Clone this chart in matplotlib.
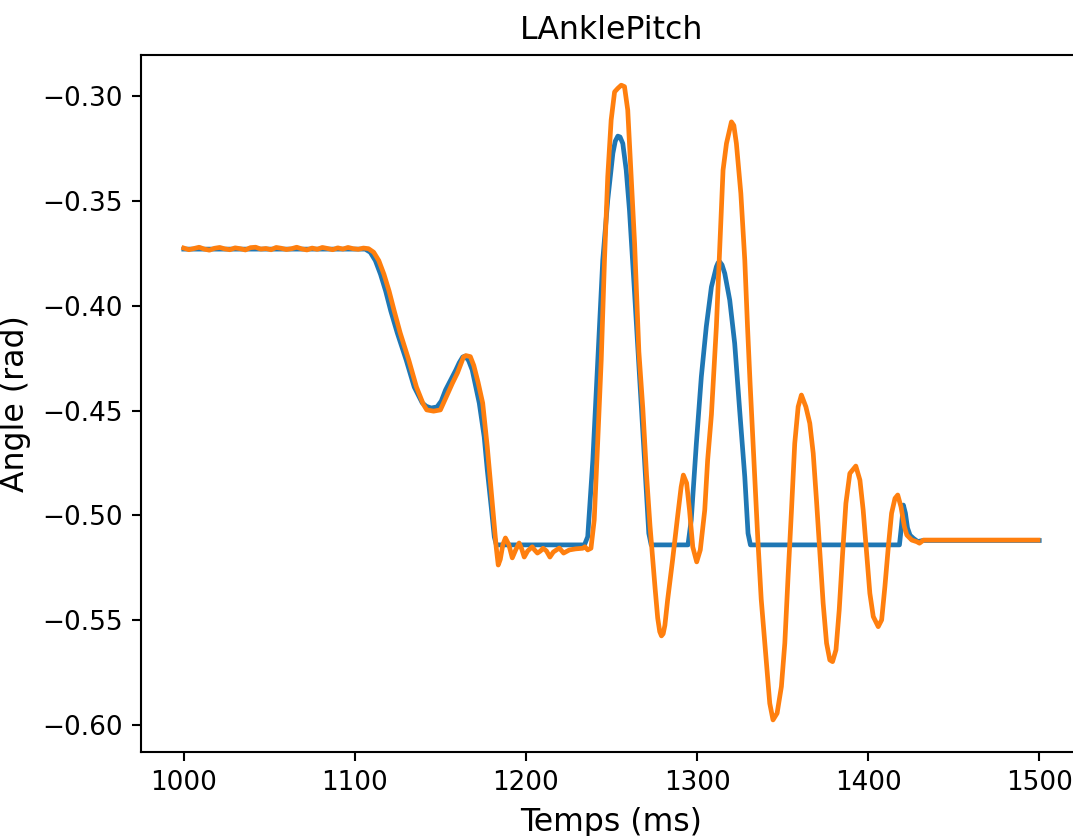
#!/usr/bin/env python3
"""Commanded vs measured LAnklePitch angle over one step."""

import matplotlib
matplotlib.use("Agg")
import matplotlib.pyplot as plt

# --- Data ----------------------------------------------------------------
# commanded joint angle (blue)
cmd_t = [1000, 1106, 1109, 1112, 1115, 1118, 1121, 1124.8, 1130, 1134.7,
         1139.4, 1141.8, 1144.6, 1148, 1150.5, 1153, 1159, 1161, 1163,
         1164.5, 1166.5, 1168.6, 1172.7, 1175.6, 1177.4, 1179.7, 1181.5,
         1182.7,
         1234.2, 1236.1, 1239.1, 1242.0, 1244.9, 1247.8, 1250.8, 1252.2,
         1253.7, 1255.0, 1256.6, 1258.6, 1260.5, 1263.5, 1266.4, 1269.3,
         1271.8, 1273.2,
         1294.7, 1296.6, 1299.6, 1302.5, 1305.4, 1308.4, 1311.3, 1312.3,
         1313.2, 1314.6, 1316.2, 1319.1, 1322.0, 1324.9, 1327.9, 1329.8,
         1331.2,
         1418.3, 1419.5, 1420.6, 1421.8, 1423.0, 1424.5, 1426.5, 1429.0,
         1432.0, 1500]
cmd_y = [-0.3730, -0.3730, -0.3745, -0.3785, -0.3850, -0.3930, -0.4025,
         -0.4130, -0.4259, -0.4388, -0.4464, -0.4480, -0.4488, -0.4483,
         -0.4455, -0.4402, -0.4307, -0.4272, -0.4245, -0.4240, -0.4262,
         -0.4307, -0.4464, -0.4626, -0.4784, -0.4960, -0.5103, -0.5141,
         -0.5141, -0.5102, -0.4736, -0.4259, -0.3782, -0.3496, -0.3273,
         -0.3215, -0.3191, -0.3195, -0.3226, -0.3353, -0.3544, -0.3941,
         -0.4339, -0.4736, -0.5086, -0.5141,
         -0.5141, -0.5022, -0.4657, -0.4339, -0.4100, -0.3910, -0.3814,
         -0.3795, -0.3790, -0.3805, -0.3846, -0.3973, -0.4180, -0.4498,
         -0.4816, -0.5086, -0.5141,
         -0.5141, -0.5050, -0.4951, -0.4990, -0.5060, -0.5095, -0.5110,
         -0.5125, -0.5120, -0.5120]

# measured joint angle (orange)
meas_t = [1000, 1003, 1006, 1009, 1012, 1015, 1018, 1021, 1024, 1027,
          1030, 1033, 1036, 1039, 1042, 1045, 1048, 1051, 1054, 1057,
          1060, 1063, 1066, 1069, 1072, 1075, 1078, 1081, 1084, 1087,
          1090, 1093, 1096, 1099, 1102, 1105,
          1108, 1111, 1114, 1117, 1120, 1123, 1126.5, 1131.5, 1136, 1140,
          1142, 1146, 1150, 1154, 1157, 1160, 1163.5, 1165, 1167.5, 1169.5,
          1172, 1174.7, 1177.4, 1180.3, 1182.6, 1183.8, 1185, 1186.5, 1188,
          1190, 1192, 1194, 1196, 1197.5, 1199, 1201, 1203.7, 1205, 1206.7,
          1208.5, 1210, 1212, 1214, 1216, 1219.5, 1222, 1225.4, 1229,
          1233.2, 1234.5, 1236.1, 1238,
          1239.9, 1241.9, 1244.0, 1245.9, 1247.8, 1249.8, 1251.8, 1253.7,
          1255.7, 1257.6, 1259.5, 1261.5, 1263.5, 1266, 1268.3, 1270.5,
          1272.5, 1274.2, 1275.5, 1277, 1278.2, 1279.2, 1280.2, 1281.2,
          1282.8, 1285.7, 1288.6, 1290.7, 1292, 1293.9, 1295.6, 1297.5,
          1299.8, 1301.9, 1304.5, 1306.2, 1308.4, 1311.3, 1313.8, 1315.2,
          1317.2, 1320.1, 1321.5, 1323.0, 1325.6, 1327.9, 1329.5, 1331,
          1333.2, 1335.5, 1337.5, 1339.6, 1342.5, 1344.4, 1346.8, 1349.3,
          1351.3, 1353.2, 1355.2, 1357.1, 1359.1, 1361.0, 1363.6, 1365.9,
          1367.9, 1369.8, 1371.8, 1373.7, 1375.7, 1377.6, 1379.2, 1381.2,
          1383.1, 1385.1, 1387.0, 1389.3, 1392.8, 1395.2, 1397.1, 1399.1,
          1401.0, 1403.0, 1405.9, 1407.9, 1409.8, 1411.8, 1413.7, 1415.7,
          1417.3, 1419.2, 1421.2, 1422.6, 1425.5, 1428.5, 1430.0, 1432.4,
          1499.3]
meas_y = [-0.3725, -0.3733, -0.3727, -0.3721, -0.3730, -0.3735, -0.3726,
          -0.3722, -0.3729, -0.3733, -0.3724, -0.3728, -0.3734, -0.3723,
          -0.3721, -0.3730, -0.3727, -0.3733, -0.3722, -0.3726, -0.3732,
          -0.3728, -0.3721, -0.3729, -0.3734, -0.3725, -0.3731, -0.3722,
          -0.3727, -0.3733, -0.3724, -0.3730, -0.3722, -0.3728, -0.3731,
          -0.3725,
          -0.3728, -0.3745, -0.3785, -0.3850, -0.3930, -0.4025, -0.4130,
          -0.4259, -0.4388, -0.4470, -0.4497, -0.4503, -0.4497, -0.4425,
          -0.4370, -0.4320, -0.4245, -0.4238, -0.4243, -0.4285, -0.4365,
          -0.4464, -0.4674, -0.4940, -0.5151, -0.5237, -0.5210, -0.5140,
          -0.5108, -0.5140, -0.5203, -0.5165, -0.5132, -0.5160, -0.5199,
          -0.5170, -0.5150, -0.5165, -0.5180, -0.5170, -0.5157, -0.5170,
          -0.5199, -0.5175, -0.5156, -0.5180, -0.5165, -0.5160, -0.5157,
          -0.5150, -0.5165, -0.5157,
          -0.5022, -0.4657, -0.4259, -0.3782, -0.3385, -0.3114, -0.2980,
          -0.2963, -0.2948, -0.2955, -0.3067, -0.3385, -0.3703, -0.4220,
          -0.4490, -0.4810, -0.5050, -0.5220, -0.5350, -0.5490, -0.5555,
          -0.5575, -0.5565, -0.5525, -0.5404, -0.5213, -0.5008, -0.4865,
          -0.4808, -0.4846, -0.4975, -0.5151, -0.5222, -0.5165, -0.4975,
          -0.4736, -0.4520, -0.4100, -0.3623, -0.3353, -0.3226, -0.3123,
          -0.3140, -0.3226, -0.3464, -0.3782, -0.4100, -0.4370, -0.4736,
          -0.5110, -0.5400, -0.5610, -0.5897, -0.5976, -0.5944, -0.5817,
          -0.5610, -0.5293, -0.4975, -0.4657, -0.4482, -0.4426, -0.4482,
          -0.4561, -0.4704, -0.4927, -0.5180, -0.5419, -0.5610, -0.5690,
          -0.5698, -0.5642, -0.5451, -0.5180, -0.4943, -0.4800, -0.4765,
          -0.4832, -0.4975, -0.5180, -0.5372, -0.5483, -0.5531, -0.5499,
          -0.5340, -0.5150, -0.4990, -0.4919, -0.4903, -0.4959, -0.5054,
          -0.5094, -0.5118, -0.5126, -0.5133, -0.5118, -0.5118]

JOINT = "LAnklePitch"
DPI = 189


def plot_joint(out="out.png"):
    fig = plt.figure(figsize=(1073 / DPI, 836 / DPI), dpi=DPI)
    # axes run past the right edge on purpose, like the cropped original
    ax = fig.add_axes([141 / 1073, 84 / 836, 941 / 1073, 697 / 836])

    ax.plot(cmd_t, cmd_y, color="tab:blue", linewidth=1.8)
    ax.plot(meas_t, meas_y, color="tab:orange", linewidth=1.8)

    ax.set_xlim(975, 1525)
    ax.set_ylim(-0.6129, -0.2804)
    ax.set_xticks([1000, 1100, 1200, 1300, 1400, 1500])
    ax.set_yticks([-0.30, -0.35, -0.40, -0.45, -0.50, -0.55, -0.60])

    ax.set_title(JOINT, fontsize=12)
    ax.set_xlabel("Temps (ms)", fontsize=12)
    ax.set_ylabel("Angle (rad)", fontsize=12)

    fig.savefig(out, dpi=DPI)
    plt.close(fig)


if __name__ == "__main__":
    plot_joint()
